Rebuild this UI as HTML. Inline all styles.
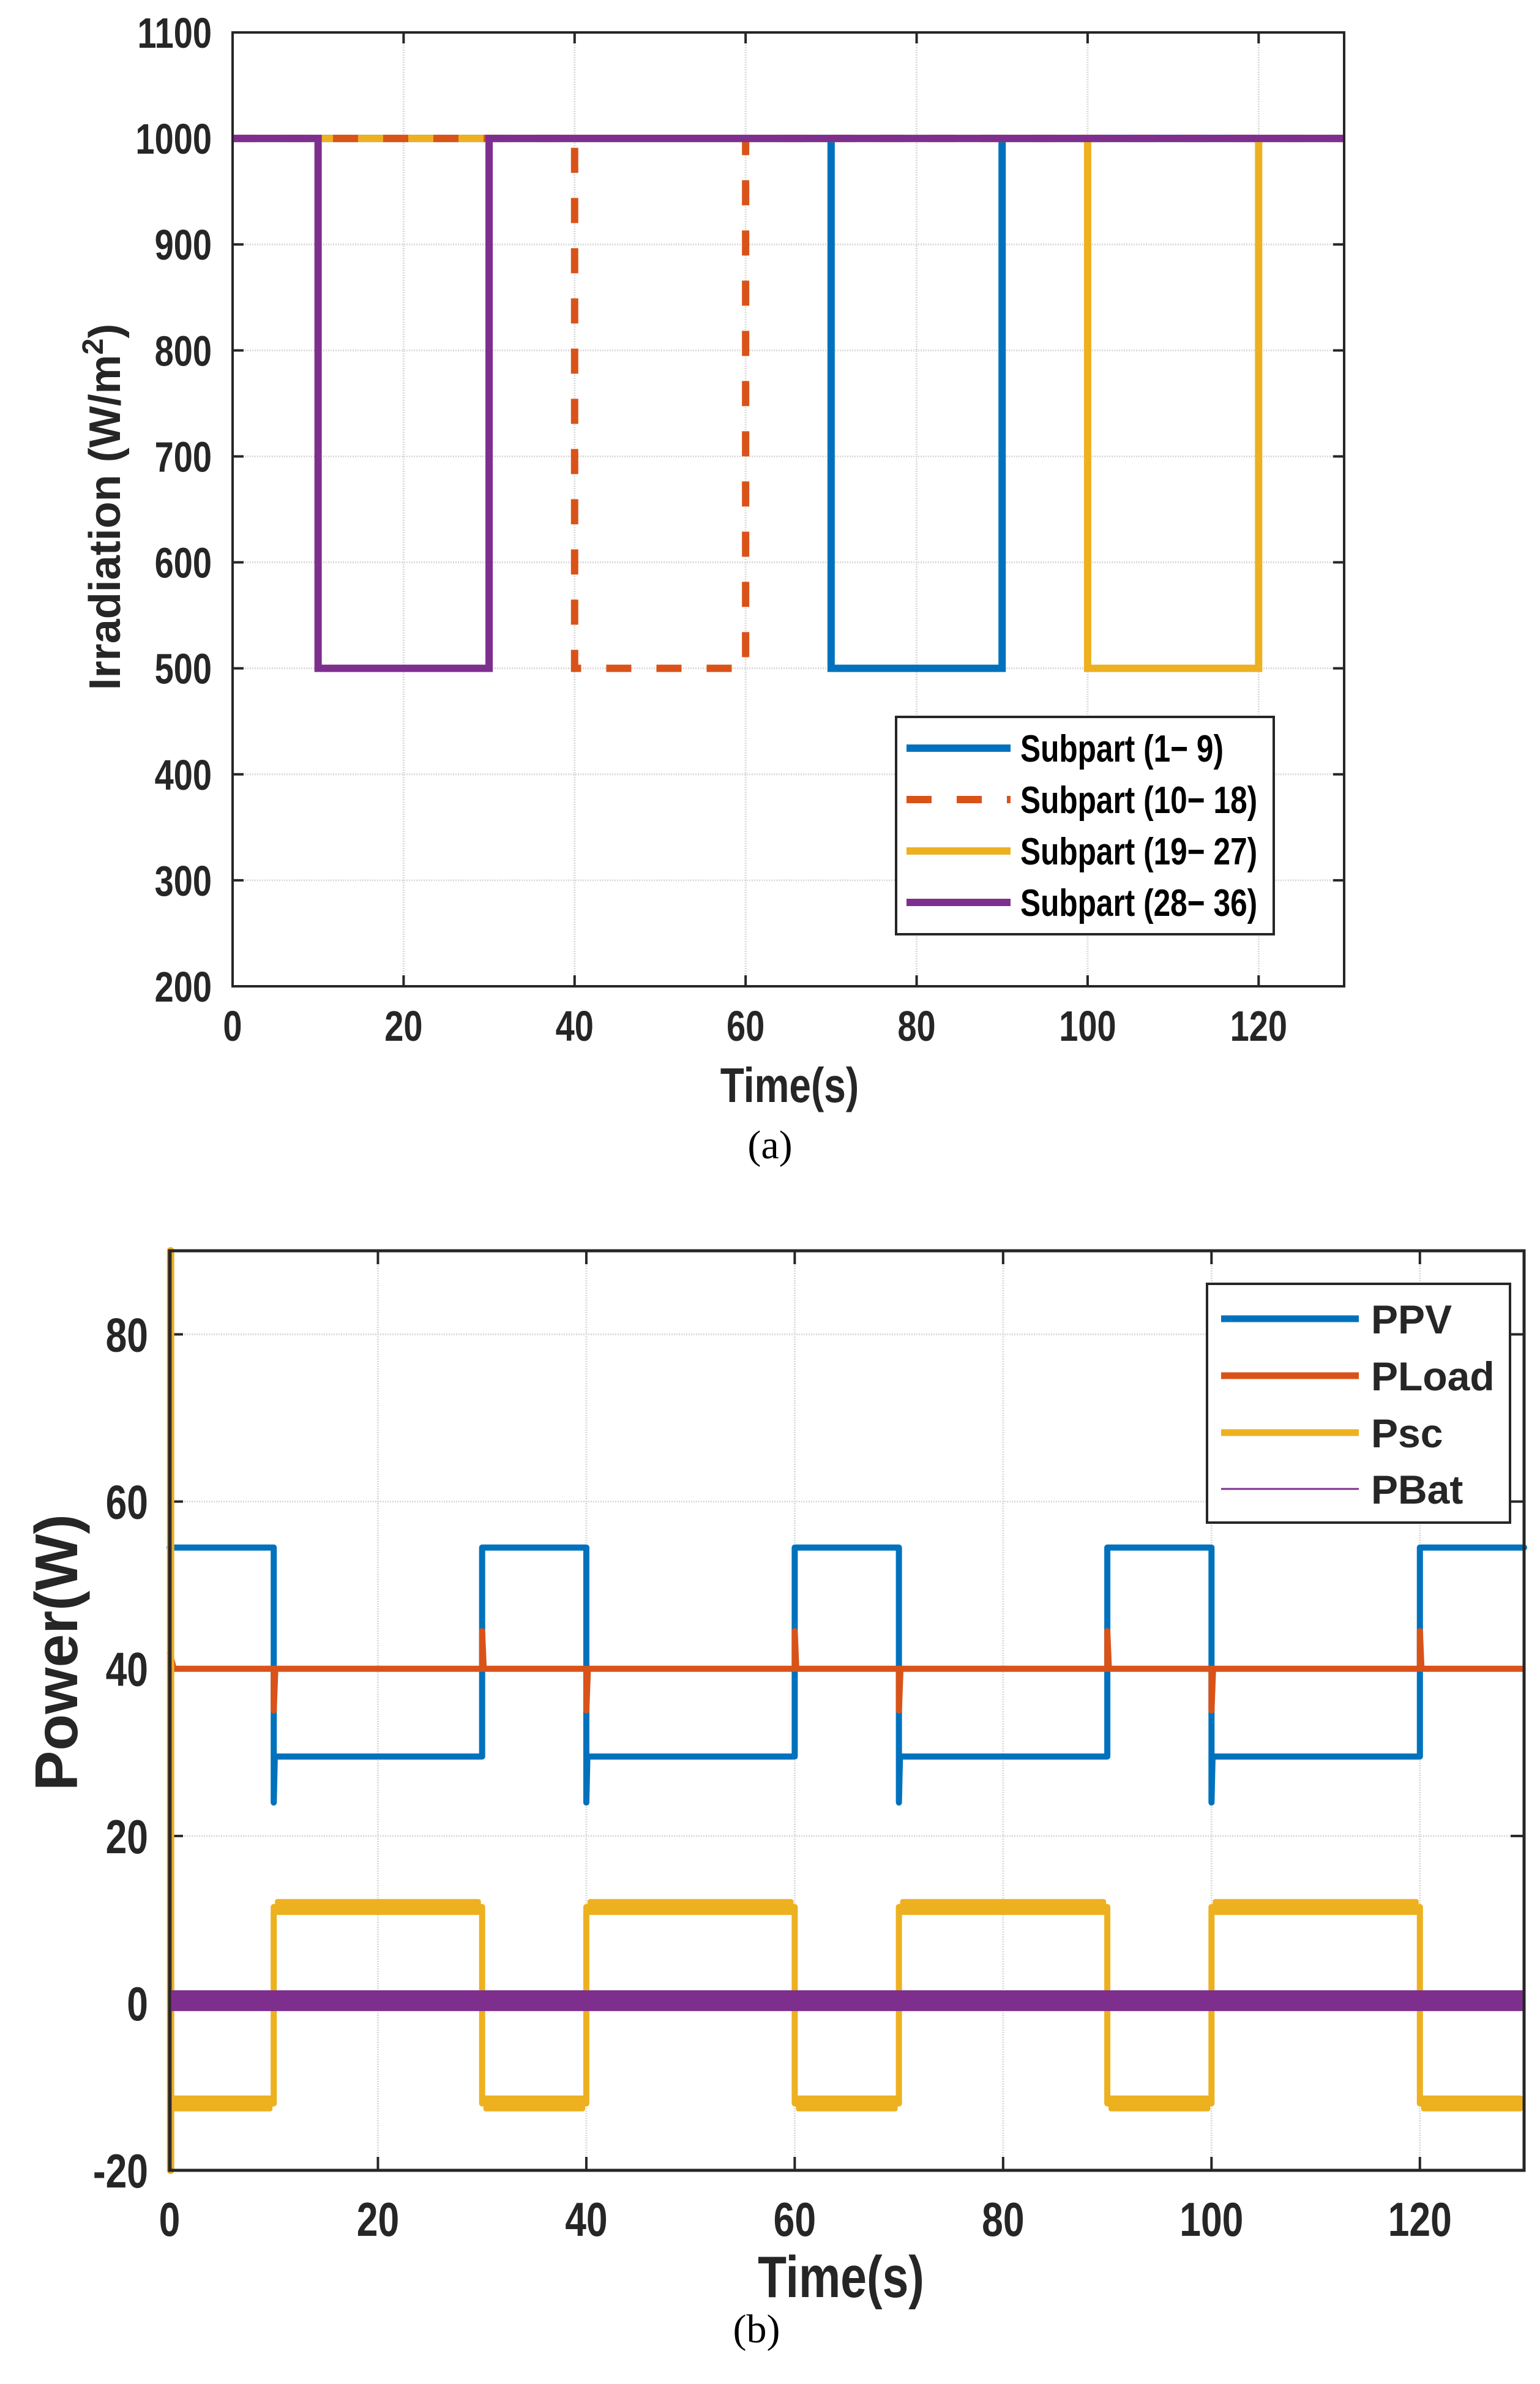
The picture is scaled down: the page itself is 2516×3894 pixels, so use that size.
<!DOCTYPE html>
<html><head><meta charset="utf-8">
<style>
html,body{margin:0;padding:0;background:#fff;}
svg{display:block;}
.tk{font-family:"Liberation Sans",sans-serif;font-weight:bold;fill:#262626;}
.lg{font-family:"Liberation Sans",sans-serif;font-weight:bold;fill:#000;}
.lb{font-family:"Liberation Sans",sans-serif;font-weight:bold;fill:#262626;}
.cap{font-family:"Liberation Serif",serif;fill:#000;}
</style></head>
<body>
<svg id="svg" width="2516" height="3894" viewBox="0 0 2516 3894" xmlns="http://www.w3.org/2000/svg">
<g id="ga"></g>
<g id="gb"></g>
</svg>
<script>
// ---- chart (a) data ----
const aXTicks = [0,20,40,60,80,100,120];
const aYTicks = [200,300,400,500,600,700,800,900,1000,1100];
const aNames = ["Subpart (1\u2212 9)","Subpart (10\u2212 18)","Subpart (19\u2212 27)","Subpart (28\u2212 36)"];
const aDipStart = [70,40,100,10];
const aDipEnd = [90,60,120,30];
const aHigh = [1000,1000,1000,1000];
const aLow = [500,500,500,500];
// ---- chart (b) data ----
const bXTicks = [0,20,40,60,80,100,120];
const bYTicks = [-20,0,20,40,60,80];
const bSwitchTimes = [0,10,30,40,60,70,90,100,120,130];
const ppvLevels = [54.5,29.5,54.5,29.5,54.5,29.5,54.5,29.5,54.5];
const ppvSpikes = [null,24,null,24,null,24,null,24,null];
const ploadLevel = [42,40,40,40,40,40,40,40,40];
const ploadSpikes = [null,35,44.5,35,44.5,35,44.5,35,44.5];
const pscLevels = [-12,11.5,-12,11.5,-12,11.5,-12,11.5,-12];
const pscStartSpike = [-20,90];
const pbatLevel = [0.3];

const NS="http://www.w3.org/2000/svg";
const NARROW=0.8;
function mk(parent,tag,attrs,text){
  const e=document.createElementNS(NS,tag);
  if(tag==='text'&&(attrs['class']==='tk'||attrs['class']==='lg')&&!attrs.transform){
    const x=attrs.x,y=attrs.y;attrs=Object.assign({},attrs);attrs.x=0;attrs.y=0;
    attrs.transform='translate('+x+','+y+') scale('+NARROW+',1)';
  }
  for(const k in attrs)e.setAttribute(k,attrs[k]);
  if(text!==undefined)e.textContent=text;parent.appendChild(e);return e;}

// ===== chart (a) =====
(function(){
  const g=document.getElementById('ga');
  const L=380,R=2196,T=53,B=1611,x0=0,x1=130,y0=200,y1=1100;
  const X=v=>L+(v-x0)/(x1-x0)*(R-L), Y=v=>B-(v-y0)/(y1-y0)*(B-T);
  aXTicks.forEach(v=>{
    const l=mk(g,'line',{x1:X(v),x2:X(v),y1:T,y2:B,stroke:'#d9d9d9','stroke-width':3,'stroke-dasharray':'2 2'});
    
    const t=mk(g,'text',{x:X(v),y:1700,'text-anchor':'middle','font-size':70,class:'tk'},String(v));
    
    mk(g,'line',{x1:X(v),x2:X(v),y1:B,y2:B-18,stroke:'#262626','stroke-width':4});
    mk(g,'line',{x1:X(v),x2:X(v),y1:T,y2:T+18,stroke:'#262626','stroke-width':4});
  });
  aYTicks.forEach(v=>{
    const l=mk(g,'line',{x1:L,x2:R,y1:Y(v),y2:Y(v),stroke:'#d9d9d9','stroke-width':3,'stroke-dasharray':'2 2'});
    
    const t=mk(g,'text',{x:346,y:Y(v)+25,'text-anchor':'end','font-size':70,class:'tk'},String(v));
    
    mk(g,'line',{x1:L,x2:L+18,y1:Y(v),y2:Y(v),stroke:'#262626','stroke-width':4});
    mk(g,'line',{x1:R,x2:R-18,y1:Y(v),y2:Y(v),stroke:'#262626','stroke-width':4});
  });
  const colors=['#0072BD','#D95319','#EDB120','#7E2F8E'];
  const order=[0,2,1,3];
  order.forEach(i=>{
    const pts=[[x0,aHigh[i]],[aDipStart[i],aHigh[i]],[aDipStart[i],aLow[i]],[aDipEnd[i],aLow[i]],[aDipEnd[i],aHigh[i]],[x1,aHigh[i]]];
    const p=mk(g,'polyline',{points:pts.map(q=>X(q[0])+','+Y(q[1])).join(' '),fill:'none',stroke:colors[i],'stroke-width':12,'stroke-linejoin':'miter'});
    if(i===1)p.setAttribute('stroke-dasharray','41 41');
    
  });
  const box=mk(g,'rect',{x:L,y:T,width:R-L,height:B-T,fill:'none',stroke:'#262626','stroke-width':4});
  
  const xl=mk(g,'text',{x:1290,y:1800,'text-anchor':'middle','font-size':80,class:'tk'},'Time(s)');
  
  const yl=mk(g,'text',{x:0,y:0,'text-anchor':'middle','font-size':72,class:'lb',transform:'translate(196,828) rotate(-90)'});
  
  yl.appendChild(document.createTextNode('Irradiation (W/m'));
  mk(yl,'tspan',{dy:-28,'font-size':48},'2');
  mk(yl,'tspan',{dy:28},')');
  const lg=mk(g,'g',{});
  
  mk(lg,'rect',{x:1464,y:1171,width:617,height:355,fill:'#fff',stroke:'#262626','stroke-width':4});
  const ly=[1222,1306,1390,1474];
  aNames.forEach((n,i)=>{
    const e=mk(lg,'g',{});
    
    const ln=mk(e,'line',{x1:1481,x2:1651,y1:ly[i],y2:ly[i],stroke:colors[i],'stroke-width':12});
    if(i===1)ln.setAttribute('stroke-dasharray','41 41');
    mk(e,'text',{x:1667,y:ly[i]+22,'font-size':62,class:'lg'},n);
  });
  const c=mk(g,'text',{x:1258,y:1892,'text-anchor':'middle','font-size':66,class:'cap'},'(a)');
  
})();

// ===== chart (b) =====
(function(){
  const g=document.getElementById('gb');
  const L=277,R=2490,T=2043,B=3545,x0=0,x1=130,y0=-20,y1=90;
  const X=v=>L+(v-x0)/(x1-x0)*(R-L), Y=v=>B-(v-y0)/(y1-y0)*(B-T);
  bXTicks.forEach(v=>{
    const l=mk(g,'line',{x1:X(v),x2:X(v),y1:T,y2:B,stroke:'#d9d9d9','stroke-width':3,'stroke-dasharray':'2 2'});
    
    const t=mk(g,'text',{x:X(v),y:3652,'text-anchor':'middle','font-size':78,class:'tk'},String(v));
    
    mk(g,'line',{x1:X(v),x2:X(v),y1:B,y2:B-22,stroke:'#262626','stroke-width':4});
    mk(g,'line',{x1:X(v),x2:X(v),y1:T,y2:T+22,stroke:'#262626','stroke-width':4});
  });
  bYTicks.forEach(v=>{
    const l=mk(g,'line',{x1:L,x2:R,y1:Y(v),y2:Y(v),stroke:'#d9d9d9','stroke-width':3,'stroke-dasharray':'2 2'});
    
    const t=mk(g,'text',{x:242,y:Y(v)+28,'text-anchor':'end','font-size':78,class:'tk'},String(v));
    
    mk(g,'line',{x1:L,x2:L+22,y1:Y(v),y2:Y(v),stroke:'#262626','stroke-width':4});
    mk(g,'line',{x1:R,x2:R-22,y1:Y(v),y2:Y(v),stroke:'#262626','stroke-width':4});
  });
  function stepPts(levels,spikes){
    const pts=[];
    for(let i=0;i<levels.length;i++){
      const a=bSwitchTimes[i],b=bSwitchTimes[i+1];
      if(spikes&&spikes[i]!==null&&i>0){pts.push([a,spikes[i]]);pts.push([a+0.1,levels[i]]);}
      else pts.push([a,levels[i]]);
      pts.push([b,levels[i]]);
    }
    return pts.map(q=>X(q[0])+','+Y(q[1])).join(' ');
  }
  function loadPts(){
    const pts=[[0,ploadLevel[0]],[0.4,ploadLevel[1]]];
    for(let i=1;i<ploadLevel.length;i++){
      const a=bSwitchTimes[i];
      pts.push([a,ploadLevel[i]]);pts.push([a,ploadSpikes[i]]);pts.push([a+0.15,ploadLevel[i]]);
    }
    pts.push([x1,ploadLevel[ploadLevel.length-1]]);
    return pts.map(q=>X(q[0])+','+Y(q[1])).join(' ');
  }
  const pv=mk(g,'polyline',{points:stepPts(ppvLevels,ppvSpikes),fill:'none',stroke:'#0072BD','stroke-width':10,'stroke-linejoin':'round','stroke-linecap':'round'});
  
  const ld=mk(g,'polyline',{points:loadPts(),fill:'none',stroke:'#D95319','stroke-width':10,'stroke-linejoin':'round'});
  
  const sc=mk(g,'polyline',{points:stepPts(pscLevels,null),fill:'none',stroke:'#EDB120','stroke-width':10,'stroke-linejoin':'round'});
  
  for(let i=0;i<pscLevels.length;i++){
    const a=bSwitchTimes[i],b=bSwitchTimes[i+1];
    const r=mk(g,'rect',{x:X(a)+2,y:Y(pscLevels[i])-13,width:X(b)-X(a)-4,height:26,fill:'#EDB120',rx:4});
    
  }
  const sp=mk(g,'line',{x1:X(0.1),x2:X(0.1),y1:Y(pscStartSpike[0]),y2:Y(pscStartSpike[1]),stroke:'#EDB120','stroke-width':12,'stroke-linecap':'round'});
  
  mk(g,'line',{x1:X(0.1),x2:X(0.1),y1:Y(pscStartSpike[0]),y2:Y(pscStartSpike[1]),stroke:'#7E2F8E','stroke-width':4});
  const pb=mk(g,'line',{x1:X(x0),x2:X(x1),y1:Y(pbatLevel[0]),y2:Y(pbatLevel[0]),stroke:'#7E2F8E','stroke-width':34});
  
  const box=mk(g,'rect',{x:L,y:T,width:R-L,height:B-T,fill:'none',stroke:'#262626','stroke-width':5});
  
  const xl=mk(g,'text',{x:1374,y:3752,'text-anchor':'middle','font-size':96,class:'tk'},'Time(s)');
  
  const yl=mk(g,'text',{x:0,y:0,'text-anchor':'middle','font-size':98,class:'lb',transform:'translate(126,2699) rotate(-90)'},'Power(W)');
  
  const lg=mk(g,'g',{});
  
  mk(lg,'rect',{x:1972,y:2097,width:495,height:390,fill:'#fff',stroke:'#262626','stroke-width':4});
  const names=['PPV','PLoad','Psc','PBat'],cols=['#0072BD','#D95319','#EDB120','#7E2F8E'],ws=[11,11,11,3],ly=[2154,2247,2340,2432];
  names.forEach((n,i)=>{
    const e=mk(lg,'g',{});
    
    mk(e,'line',{x1:1995,x2:2220,y1:ly[i],y2:ly[i],stroke:cols[i],'stroke-width':ws[i]});
    mk(e,'text',{x:2240,y:ly[i]+24,'font-size':66,class:'lb',fill:'#000'},n);
  });
  const c=mk(g,'text',{x:1236,y:3826,'text-anchor':'middle','font-size':66,class:'cap'},'(b)');
  
})();
</script>
</body></html>
